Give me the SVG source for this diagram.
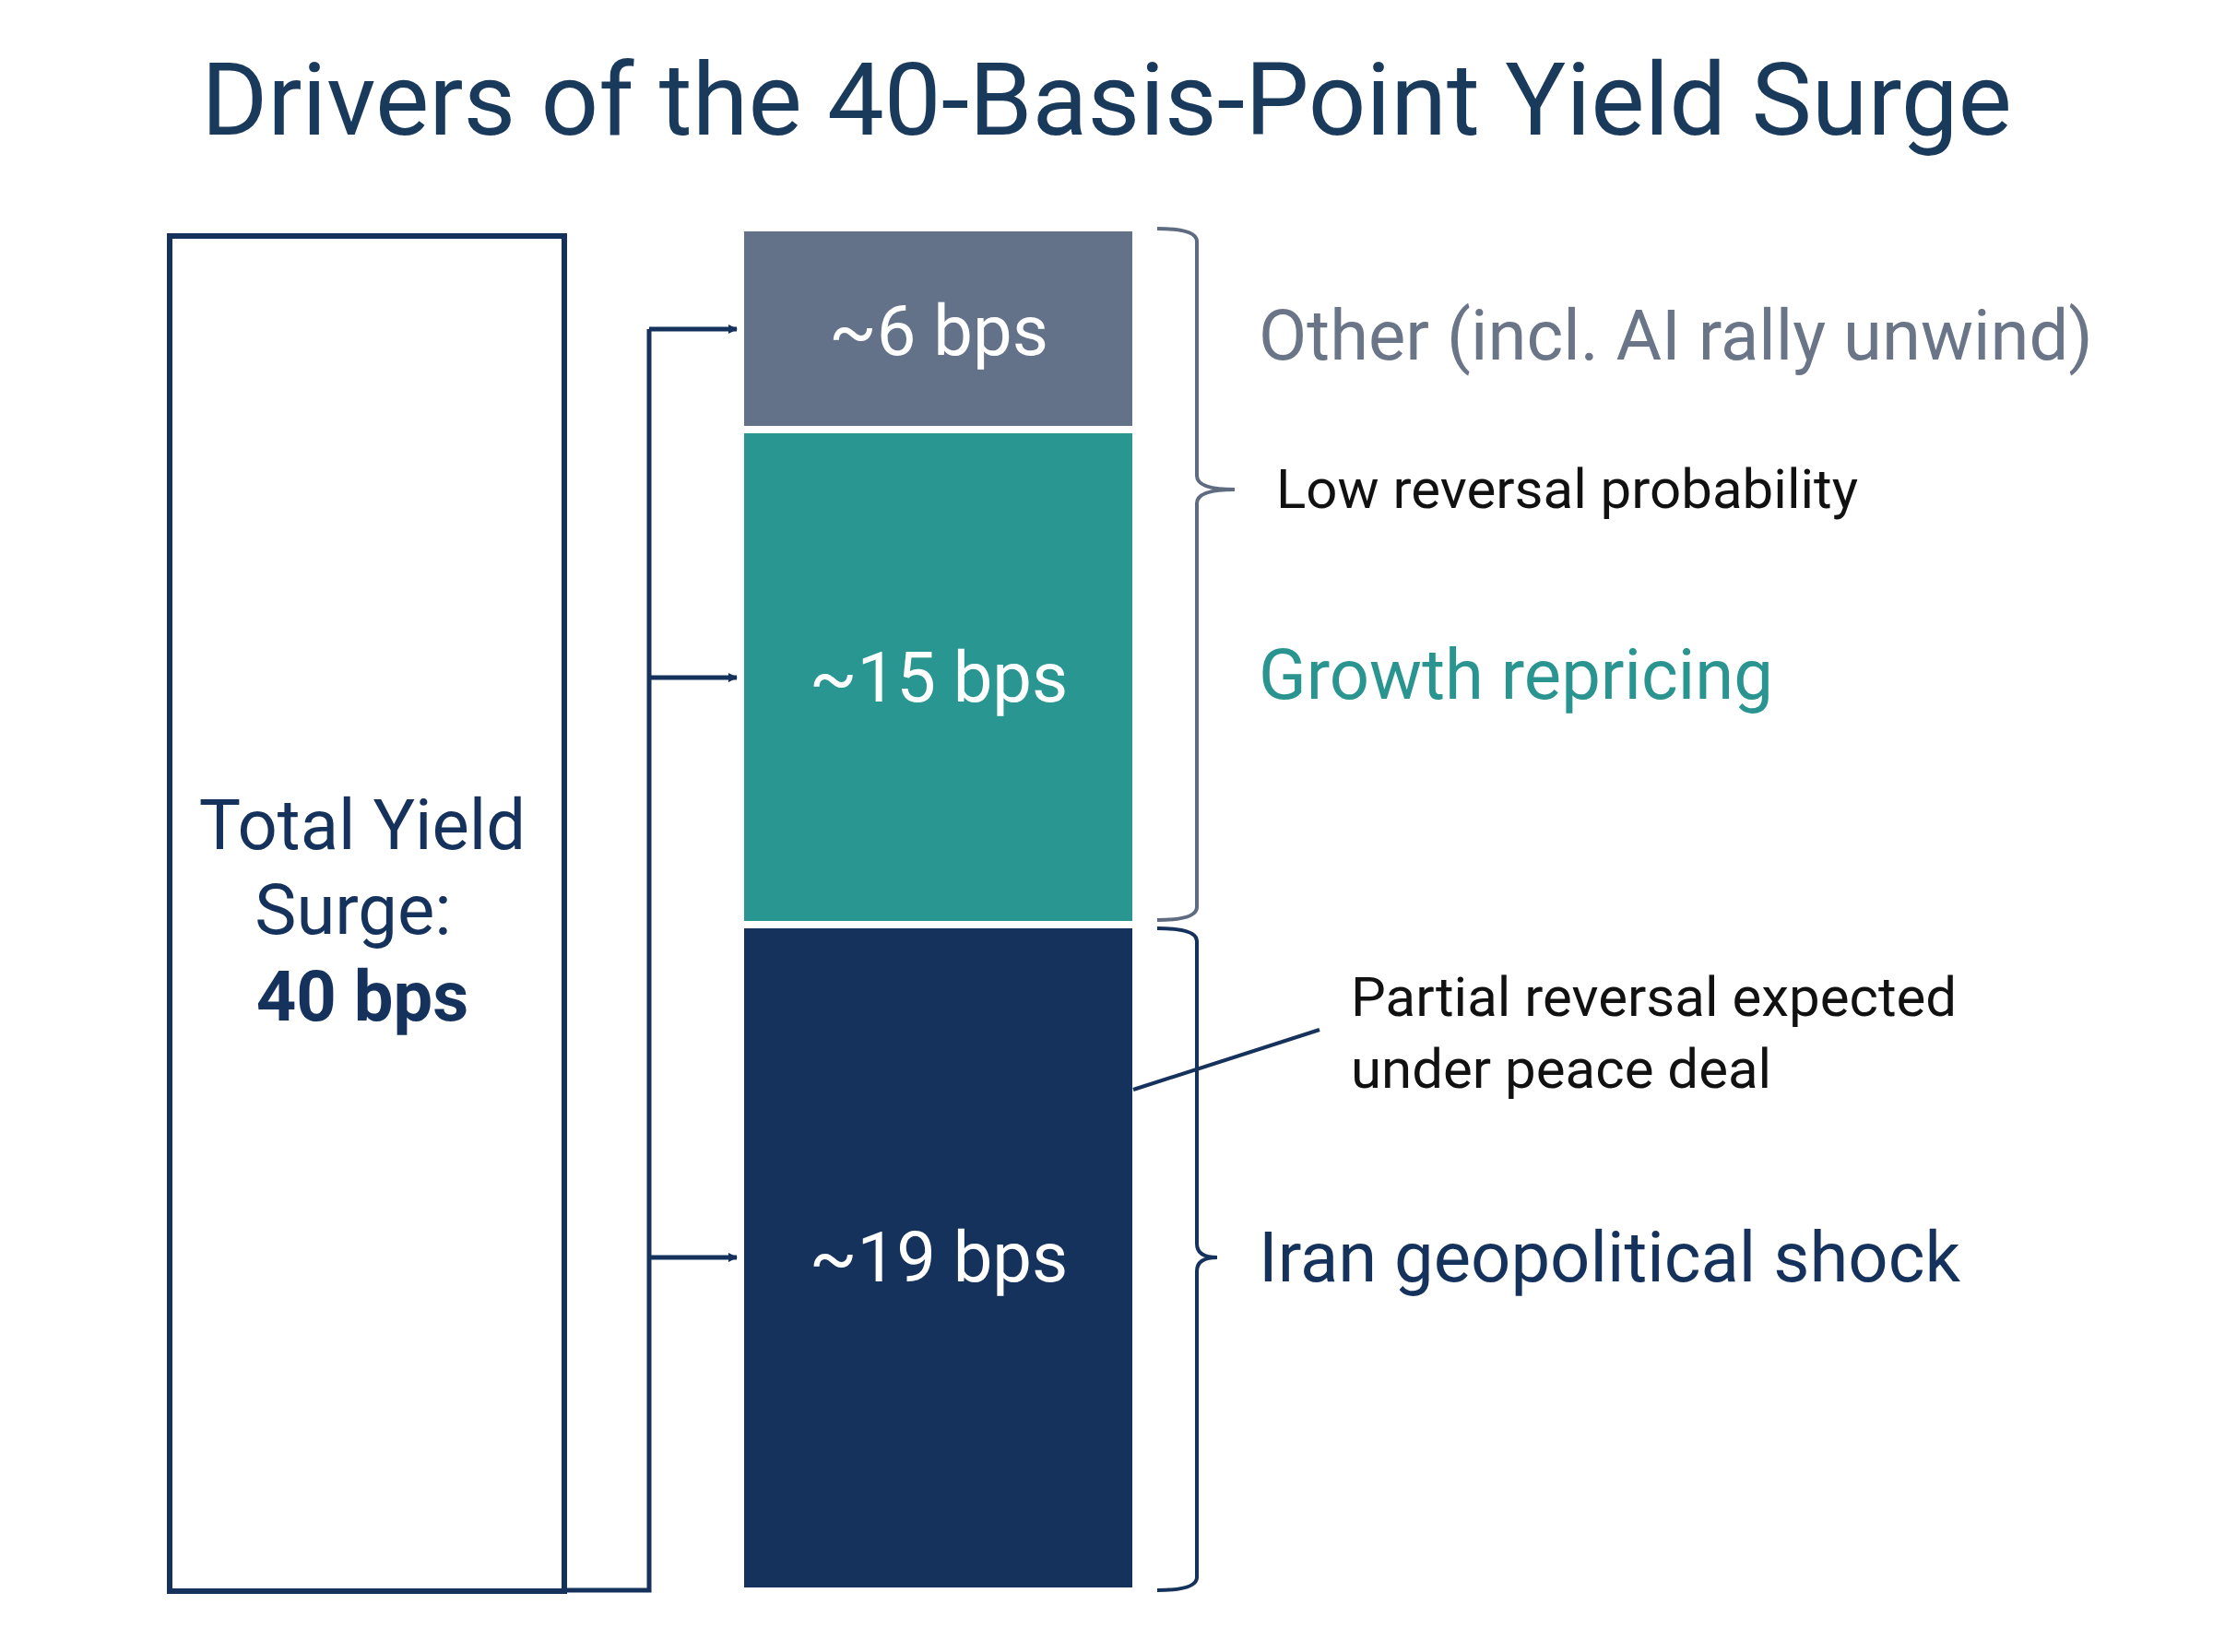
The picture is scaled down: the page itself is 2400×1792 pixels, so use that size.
<svg xmlns="http://www.w3.org/2000/svg" width="2400" height="1792" viewBox="0 0 2400 1792">
<defs>
<style>
text{font-family:Roboto,"Liberation Sans",sans-serif}
.big{font-size:76px}
.sm{font-size:60px;fill:#111}
.bar{font-size:76px;fill:#fff;text-anchor:middle}
.br{fill:none;stroke:#5f6b80;stroke-width:4}
</style>
<marker id="ah" markerWidth="10" markerHeight="10" refX="9" refY="5" orient="auto" markerUnits="userSpaceOnUse" viewBox="0 0 10 10"><path d="M0,0L10,5L0,10z" fill="#15325c"/></marker>
</defs>
<rect width="2400" height="1792" fill="#fff"/>
<text x="1200" y="146" text-anchor="middle" font-size="110" fill="#1a3a5c">Drivers of the 40-Basis-Point Yield Surge</text>
<g id="total">
<rect x="184" y="256" width="428" height="1470" fill="#fff" stroke="#15325c" stroke-width="6"/>
<text x="393" y="921" text-anchor="middle" class="big" fill="#15325c">Total Yield</text>
<text x="383" y="1013" text-anchor="middle" class="big" fill="#15325c">Surge:</text>
<text x="393" y="1107" text-anchor="middle" class="big" font-weight="bold" fill="#15325c">40 bps</text>
</g>
<g id="connectors" fill="none" stroke="#15325c" stroke-width="5">
<path d="M612,1725H704V357"/>
<path d="M704,357H799" marker-end="url(#ah)" stroke-width="5"/>
<path d="M704,735H799" marker-end="url(#ah)"/>
<path d="M704,1364H799" marker-end="url(#ah)"/>
<path d="M1229,1182L1431,1117" stroke="#15325c" stroke-width="4"/>
</g>
<g id="bar-other"><rect x="807" y="251" width="421" height="211" fill="#637289"/><text x="1018" y="385" class="bar">~6 bps</text></g>
<g id="bar-growth"><rect x="807" y="470" width="421" height="529" fill="#2a9692"/><text x="1018" y="761" class="bar">~15 bps</text></g>
<g id="bar-iran"><rect x="807" y="1007" width="421" height="715" fill="#15325c"/><text x="1018" y="1390" class="bar">~19 bps</text></g>
<g id="brace1"><path class="br" d="M1255,248Q1298,248 1298,262V516Q1298,531 1339,531Q1298,531 1298,546V984Q1298,998 1255,998"/></g>
<g id="brace2"><path class="br" stroke="#15325c" style="stroke:#15325c" d="M1255,1007Q1298,1007 1298,1021V1349Q1298,1364 1320,1364Q1298,1364 1298,1379V1711Q1298,1725 1255,1725"/></g>
<g id="labels">
<text x="1365" y="390" class="big" fill="#6b7588">Other (incl. AI rally unwind)</text>
<text x="1384" y="551" class="sm">Low reversal probability</text>
<text x="1365" y="758" class="big" fill="#2a9490">Growth repricing</text>
<text x="1465" y="1102" class="sm">Partial reversal expected</text>
<text x="1465" y="1180" class="sm">under peace deal</text>
<text x="1365" y="1390" class="big" fill="#15325c">Iran geopolitical shock</text>
</g>
</svg>
